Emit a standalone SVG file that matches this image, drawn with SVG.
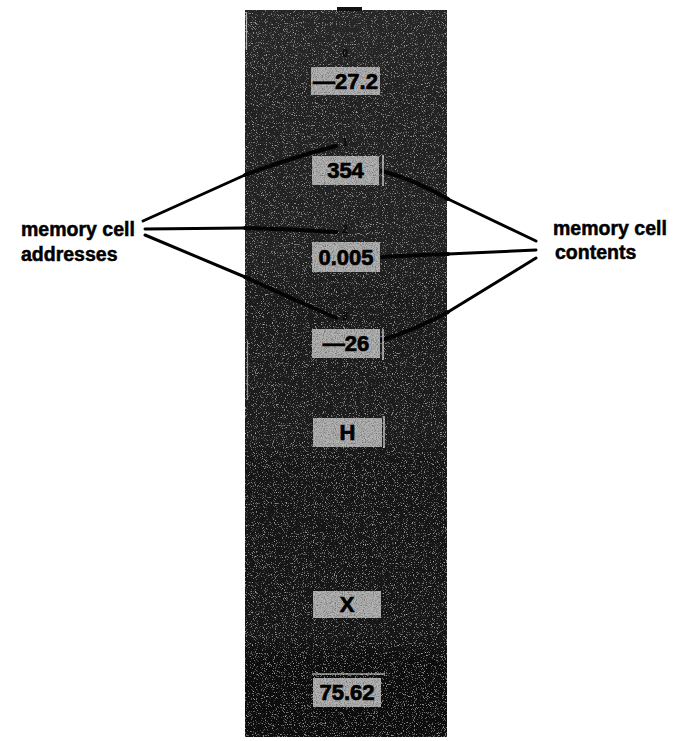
<svg xmlns="http://www.w3.org/2000/svg" width="673" height="741" viewBox="0 0 673 741">
<defs>
<linearGradient id="pg" x1="0" y1="0" x2="0" y2="1">
<stop offset="0" stop-color="#262626"/>
<stop offset="0.45" stop-color="#1e1e1e"/>
<stop offset="1" stop-color="#0e0e0e"/>
</linearGradient>
<filter id="grain" x="0" y="0" width="100%" height="100%">
<feTurbulence type="fractalNoise" baseFrequency="0.9" numOctaves="2" seed="7" result="n"/>
<feColorMatrix in="n" type="matrix" values="0 0 0 0 1  0 0 0 0 1  0 0 0 0 1  1.6 0 0 0 -0.95" result="dots"/>
<feComposite in="dots" in2="SourceGraphic" operator="in" result="d2"/>
<feMerge><feMergeNode in="SourceGraphic"/><feMergeNode in="d2"/></feMerge>
</filter>
<filter id="boxgrain" x="0" y="0" width="100%" height="100%">
<feTurbulence type="fractalNoise" baseFrequency="0.9" numOctaves="2" seed="2" result="n"/>
<feColorMatrix in="n" type="matrix" values="0 0 0 0 0  0 0 0 0 0  0 0 0 0 0  -1.6 0 0 0 0.95" result="dots"/>
<feComposite in="dots" in2="SourceGraphic" operator="in" result="d2"/>
<feMerge><feMergeNode in="SourceGraphic"/><feMergeNode in="d2"/></feMerge>
</filter>
</defs>
<style>
.lbl{font-family:"Liberation Sans",Arial,sans-serif;font-weight:bold;font-size:19.5px;fill:#000;stroke:#000;stroke-width:0.5}
.val{font-family:"Liberation Sans",Arial,sans-serif;font-weight:bold;font-size:22px;fill:#000;stroke:#000;stroke-width:0.7;text-anchor:middle}
.addr{font-family:"Liberation Sans",Arial,sans-serif;font-weight:bold;font-size:11px;fill:#070707;text-anchor:middle}
.box{fill:#b4b4b4;filter:url(#boxgrain)}
.edge{stroke:#e8e8e8;stroke-width:1.2;fill:none}
.out{stroke:#000;stroke-width:3;fill:none;stroke-linecap:round}
.in{stroke:#030303;stroke-width:4;fill:none;stroke-linecap:round}
</style>
<rect width="673" height="741" fill="#fff"/>
<g id="panel">
<rect x="245" y="10" width="202" height="727" fill="url(#pg)" filter="url(#grain)"/>
<rect x="337" y="7" width="25" height="4" fill="#111"/>
<line x1="246.5" y1="12" x2="246.5" y2="50" class="edge" stroke-opacity="0.7"/>
<line x1="247.5" y1="340" x2="247.5" y2="400" class="edge" stroke-opacity="0.5"/>
</g>
<g id="connectors">
<line x1="143" y1="221" x2="245" y2="175" class="out"/>
<line x1="145" y1="229" x2="245" y2="228" class="out"/>
<line x1="145" y1="235" x2="245" y2="277" class="out"/>
<path d="M245 175 Q290 158 336 146" class="in"/>
<path d="M245 228 Q290 229 336 232" class="in"/>
<path d="M245 277 Q295 300 336 318" class="in"/>
<line x1="448" y1="199" x2="536" y2="241" class="out"/>
<line x1="448" y1="254" x2="536" y2="250" class="out"/>
<line x1="448" y1="312" x2="536" y2="258" class="out"/>
<path d="M448 199 Q415 180 382 171" class="in"/>
<path d="M448 254 Q415 255 382 257" class="in"/>
<path d="M448 312 Q415 330 382 340" class="in"/>
</g>
<g id="label-addresses">
<text class="lbl" x="21" y="236">memory cell</text>
<text class="lbl" x="21" y="261">addresses</text>
</g>
<g id="label-contents">
<text class="lbl" x="553" y="235">memory cell</text>
<text class="lbl" x="555" y="259">contents</text>
</g>
<g id="cell-0">
<text class="addr" x="345" y="57">0</text>
<rect class="box" x="311" y="67" width="69" height="28"/>
<text class="val" x="345.5" y="89">—27.2</text>
</g>
<g id="cell-1">
<text class="addr" x="345" y="146">1</text>
<rect class="box" x="312" y="156" width="67" height="29"/>
<line x1="383" y1="155" x2="383" y2="186" class="edge"/>
<text class="val" x="345.5" y="178">354</text>
</g>
<g id="cell-2">
<text class="addr" x="345" y="233">2</text>
<rect class="box" x="312" y="242" width="68" height="30"/>
<text class="val" x="346" y="265">0.005</text>
</g>
<g id="cell-3">
<text class="addr" x="345" y="320">3</text>
<rect class="box" x="312" y="329" width="68" height="29"/>
<line x1="383" y1="329" x2="383" y2="360" class="edge"/>
<text class="val" x="346" y="351">—26</text>
</g>
<g id="cell-4">
<rect class="box" x="313" y="418" width="69" height="29"/>
<line x1="384" y1="416" x2="384" y2="448" class="edge"/>
<text class="val" x="347.5" y="440">H</text>
</g>
<g id="cell-5">
<rect class="box" x="313" y="591" width="68" height="27"/>
<text class="val" x="347" y="612">X</text>
</g>
<g id="cell-6">
<line x1="312" y1="674" x2="385" y2="674" class="edge"/>
<rect class="box" x="313" y="678" width="68" height="29"/>
<text class="val" x="347" y="700">75.62</text>
</g>
</svg>
